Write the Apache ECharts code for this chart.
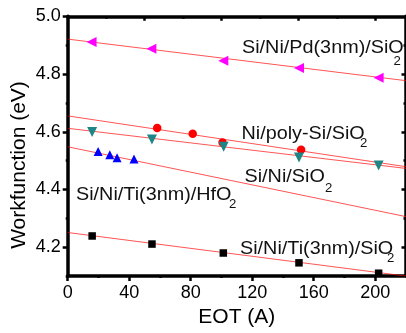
<!DOCTYPE html>
<html><head><meta charset="utf-8">
<script src="https://cdn.jsdelivr.net/npm/echarts@6/dist/echarts.min.js"></script>
<style>html,body{margin:0;padding:0;background:#fff}#c{width:406px;height:333px}</style>
</head><body><div id="c"></div>
<script>
// tick values
const xTicks=[0,40,80,120,160,200];
const xMinorTicks=[20,60,100,140,180];
const xTopTicks=[50,100,150,200];
const xTopMinorTicks=[25,75,125,175];
const yTicks=[4.2,4.4,4.6,4.8,5.0];
const yMinorTicks=[4.1,4.3,4.5,4.7,4.9];
const yRightTicks=[4.2,4.4,4.6,4.8];
const yRightMinorTicks=[4.3,4.5,4.7,4.9];

// measured data
const eotPd=[15.5,54.4,101.2,150.4,202.2];
const wfPd=[4.911,4.888,4.846,4.821,4.787];
const eotPoly=[58.2,81.3,100.7,151.8];
const wfPoly=[4.613,4.593,4.563,4.538];
const eotNi=[15.9,54.8,101.4,150.4,202.2];
const wfNi=[4.599,4.573,4.548,4.511,4.483];
const eotHf=[19.8,27.4,32.1,43.1];
const wfHf=[4.532,4.520,4.510,4.506];
const eotTi=[15.9,54.8,101.2,150.4,202.2];
const wfTi=[4.239,4.211,4.180,4.146,4.110];

// fitted lines (endpoints)
const fitX=[0,220];
const fitPd=[4.921,4.777];
const fitPoly=[4.655,4.479];
const fitNi=[4.612,4.473];
const fitHf=[4.548,4.306];
const fitTi=[4.251,4.100];

// annotation labels
const labelMain=['Si/Ni/Pd(3nm)/SiO','Ni/poly-Si/SiO','Si/Ni/SiO','Si/Ni/Ti(3nm)/HfO','Si/Ni/Ti(3nm)/SiO'];
const labelSub=['2','2','2','2','2'];

const FONT='"Liberation Sans", Arial, sans-serif';
const zip=(xs,ys)=>xs.map((x,i)=>[x,ys[i]]);

const chart=echarts.init(document.getElementById('c'),null,{renderer:'canvas'});
const lineW=3.5;
function xAx(pos,vals,len,inside,showLine,showLabel){
  return {type:'value',gridIndex:0,position:pos,min:0,max:220,interval:20,
    axisLine:{show:showLine,onZero:false,lineStyle:{color:'#000',width:lineW}},
    axisTick:{show:true,inside:inside,length:len,customValues:vals,lineStyle:{color:'#000',width:2.5}},
    axisLabel:{show:showLabel,customValues:vals,fontSize:18,color:'#000',fontFamily:FONT,margin:8},
    splitLine:{show:false}};
}
function yAx(pos,vals,len,inside,showLine,showLabel){
  return {type:'value',gridIndex:0,position:pos,min:4.1,max:5.0,interval:0.1,
    axisLine:{show:showLine,onZero:false,lineStyle:{color:'#000',width:lineW}},
    axisTick:{show:true,inside:inside,length:len,customValues:vals,lineStyle:{color:'#000',width:2.5}},
    axisLabel:{show:showLabel,customValues:vals,fontSize:18,color:'#000',fontFamily:FONT,margin:7,
      formatter:v=>Number(v).toFixed(1)},
    splitLine:{show:false}};
}
const xMain=xAx('bottom',xTicks,5,false,true,true);
xMain.name='EOT (A)';xMain.nameLocation='middle';xMain.nameGap=25;
xMain.nameTextStyle={fontSize:21,color:'#000',fontFamily:FONT};

const fitStyle={color:'rgba(255,0,0,0.75)',width:0.9};
function fit(ys){return {type:'line',xAxisIndex:0,yAxisIndex:0,data:zip(fitX,ys),showSymbol:false,symbol:'none',
  lineStyle:fitStyle,silent:true,z:1,animation:false};}
function sc(xs,ys,sym,size,rot,color){return {type:'scatter',xAxisIndex:0,yAxisIndex:0,data:zip(xs,ys),
  symbol:sym,symbolSize:size,symbolRotate:rot,itemStyle:{color:color,opacity:1},z:3,animation:false};}

const SX=1.1;
function txt(s,x,y,size){return {type:'text',x:x,y:y,scaleX:SX,z:10,style:{text:s,fontSize:size,fontFamily:FONT,
  fill:'#111',align:'left',textAlign:'left',verticalAlign:'middle',textVerticalAlign:'middle'}};}
// label anchor positions in pixels: [main left, main middle, sub left, sub middle]
const labelPos=[[242,48.5,393.5,61.5],[241.5,134,360,144],[244.5,177.5,325,189],[76,195.5,229,204.5],[240,249,387,258.5]];
const graphics=[{type:'text',x:19,y:165,rotation:Math.PI/2,z:10,style:{text:'Workfunction (eV)',fontSize:21,fontFamily:FONT,
      fill:'#000',align:'center',textAlign:'center',verticalAlign:'middle',textVerticalAlign:'middle'}}];
labelMain.forEach((s,i)=>{
  const p=labelPos[i];
  graphics.push(txt(s,p[0],p[1],18));
  graphics.push(txt(labelSub[i],p[2],p[3],12));
});

chart.setOption({
  animation:false,
  grid:{left:67.7,top:16.3,width:340,height:266.7,containLabel:false},
  xAxis:[xMain,
    xAx('bottom',xMinorTicks,2,false,false,false),
    xAx('top',xTopTicks,4.5,true,true,false),
    xAx('top',xTopMinorTicks,2.5,true,false,false)],
  yAxis:[yAx('left',yTicks,5,false,true,true),
    yAx('left',yMinorTicks,2,false,false,false),
    yAx('right',yRightTicks,4.5,true,true,false),
    yAx('right',yRightMinorTicks,2.5,true,false,false)],
  series:[
    fit(fitPd),fit(fitPoly),fit(fitNi),fit(fitHf),fit(fitTi),
    sc(eotPd,wfPd,'triangle',10,90,'#ff00ff'),
    sc(eotPoly,wfPoly,'circle',8.5,0,'#ff0000'),
    sc(eotNi,wfNi,'triangle',10,180,'#1f8585'),
    sc(eotHf,wfHf,'triangle',9,0,'#0000ff'),
    sc(eotTi,wfTi,'rect',7.5,0,'#000000')
  ],
  graphic:graphics
});
</script></body></html>
